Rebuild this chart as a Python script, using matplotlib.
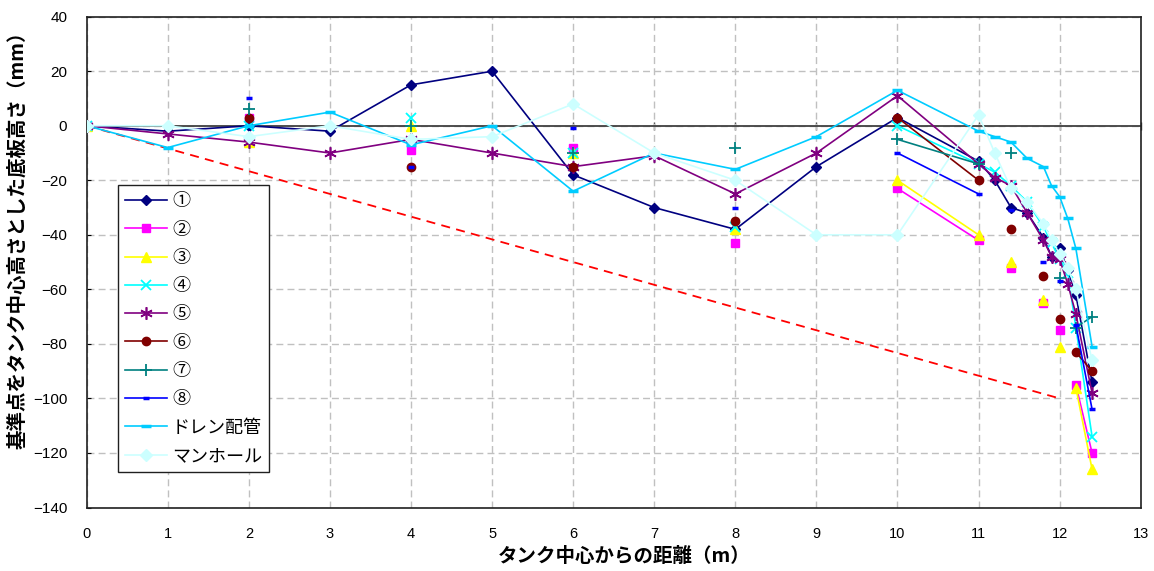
import numpy as np
import matplotlib
matplotlib.use('Agg')
from matplotlib import pyplot as plt

plt.rcParams['font.family'] = ['Noto Sans CJK JP', 'DejaVu Sans']

# distance from tank centre (m), common grid; None = no measurement
dist = [0, 1, 2, 3, 4, 5, 6, 7, 8, 9, 10, 11,
        11.2, 11.4, 11.6, 11.8, 11.9, 12.0, 12.1, 12.2, 12.4]
N = None
s1 = [0, -2, 0, -2, 15, 20, -18, -30, -38, -15, 3, -13,
      -20, -30, -32, -41, -48, -45, -53, -62, -94]
s2 = [0, N, 3, N, -9, N, -8, N, -43, N, -23, -42,
      N, -52, N, -65, N, -75, N, -95, -120]
s3 = [0, N, -6, N, 0, N, -10, N, -38, N, -20, -40,
      N, -50, N, -64, N, -81, N, -96, -126]
s4 = [0, N, 0, N, 3, N, -10, N, -37, N, 0, -14,
      -17, -22, -28, -37, -43, -49, -54, -74, -114]
s5 = [0, -3, -6, -10, -5, -10, -15, -11, -25, -10, 11, -14,
      -19, -22, -32, -42, -48, -49, -58, -69, -98]
s6 = [0, N, 3, N, -15, N, -15, N, -35, N, 3, -20,
      N, -38, N, -55, N, -71, N, -83, -90]
s7 = [0, N, 6, N, 0, N, -10, N, -8, N, -5, -14,
      N, -10, N, N, N, -56, N, -74, -70]
s8 = [0, N, 10, N, -15, N, -1, N, -30, N, -10, -25,
      N, -31, N, -50, N, -57, N, -73, -104]
drain = [0, -8, 0, 5, -7, 0, -24, -10, -16, -4, 13, -2,
         -4, -6, -12, -15, -22, -26, -34, -45, -81]
manhole = [0, 0, -4, 0, -5, -4, 8, -10, -20, -40, -40, 4,
           -10, -23, -28, -36, -42, -47, -52, -60, -86]

labels = ['①', '②', '③', '④', '⑤', '⑥', '⑦', '⑧', 'ドレン配管', 'マンホール']
limit_x = [0, 12]
limit_y = [0, -100]

series = [s1, s2, s3, s4, s5, s6, s7, s8, drain, manhole]
styles = [
    dict(color='#000080', marker='D', ms=5.5),
    dict(color='#FF00FF', marker='s', ms=5.5),
    dict(color='#FFFF00', marker='^', ms=7),
    dict(color='#00FFFF', marker='x', ms=7, mew=1.3),
    dict(color='#800080', marker=(6, 2, 0), ms=9, mew=1.2),
    dict(color='#800000', marker='o', ms=6),
    dict(color='#008080', marker='+', ms=8, mew=1.3),
    dict(color='#0000FF', marker='_', ms=4, mew=2.5),
    dict(color='#00CCFF', marker='_', ms=6.5, mew=2.5),
    dict(color='#CCFFFF', marker='D', ms=6),
]

fig = plt.figure(figsize=(11.54, 5.71), dpi=100)
ax = fig.add_axes([0.0751, 0.1112, 0.9134, 0.8596])

ax.plot(limit_x, limit_y, color='#FF0000', lw=1.3, ls=(0, (5, 3.5)), zorder=2)

x = np.array(dist)
for lab, s, st in zip(labels, series, styles):
    y = np.array(s, dtype=float)
    ax.plot(x, y, label=lab, lw=1.2, zorder=3, **st)

ax.set_xlim(0, 13)
ax.set_ylim(-140, 40)
ax.set_xticks(range(0, 14))
ax.set_yticks(range(-140, 41, 20))
ax.grid(True, color='#C0C0C0', ls=(0, (5, 3)), lw=1)
ax.set_axisbelow(True)
for sp in ax.spines.values():
    sp.set_linewidth(1.2)
    sp.set_color('#202020')
ax.tick_params(axis='x', length=0, pad=14, labelsize=10.5)
ax.tick_params(axis='y', direction='in', length=3, pad=14, labelsize=11)
for t in ax.get_xticklabels() + ax.get_yticklabels():
    t.set_fontfamily('Liberation Sans')

# horizontal axis crossing at zero
ax.axhline(0, color='#404040', lw=1.3, zorder=2.5)
zx = ax.secondary_xaxis(140 / 180)
zx.set_xticks(range(0, 14))
zx.tick_params(axis='x', direction='inout', length=6, width=1, color='#404040',
               labelbottom=False, labeltop=False)
zx.spines['bottom'].set_visible(False)
zx.spines['top'].set_visible(False)

ax.set_ylabel('基準点をタンク中心高さとした底板高さ（mm）', fontsize=14, fontweight='bold', va='center')
ax.yaxis.set_label_coords(-0.066, 0.554)
ax.set_xlabel('タンク中心からの距離（m）', fontsize=14, fontweight='bold', va='center')
ax.xaxis.set_label_coords(0.51, -0.099)

leg = ax.legend(loc='upper left', bbox_to_anchor=(0.0297, 0.657), borderaxespad=0,
                fontsize=13, frameon=True, fancybox=False, edgecolor='#202020',
                framealpha=1, handlelength=2.3, handletextpad=0.3, labelspacing=0.57,
                borderpad=0.4)
leg.get_frame().set_linewidth(1.0)

fig.savefig('out.png', dpi=100)
